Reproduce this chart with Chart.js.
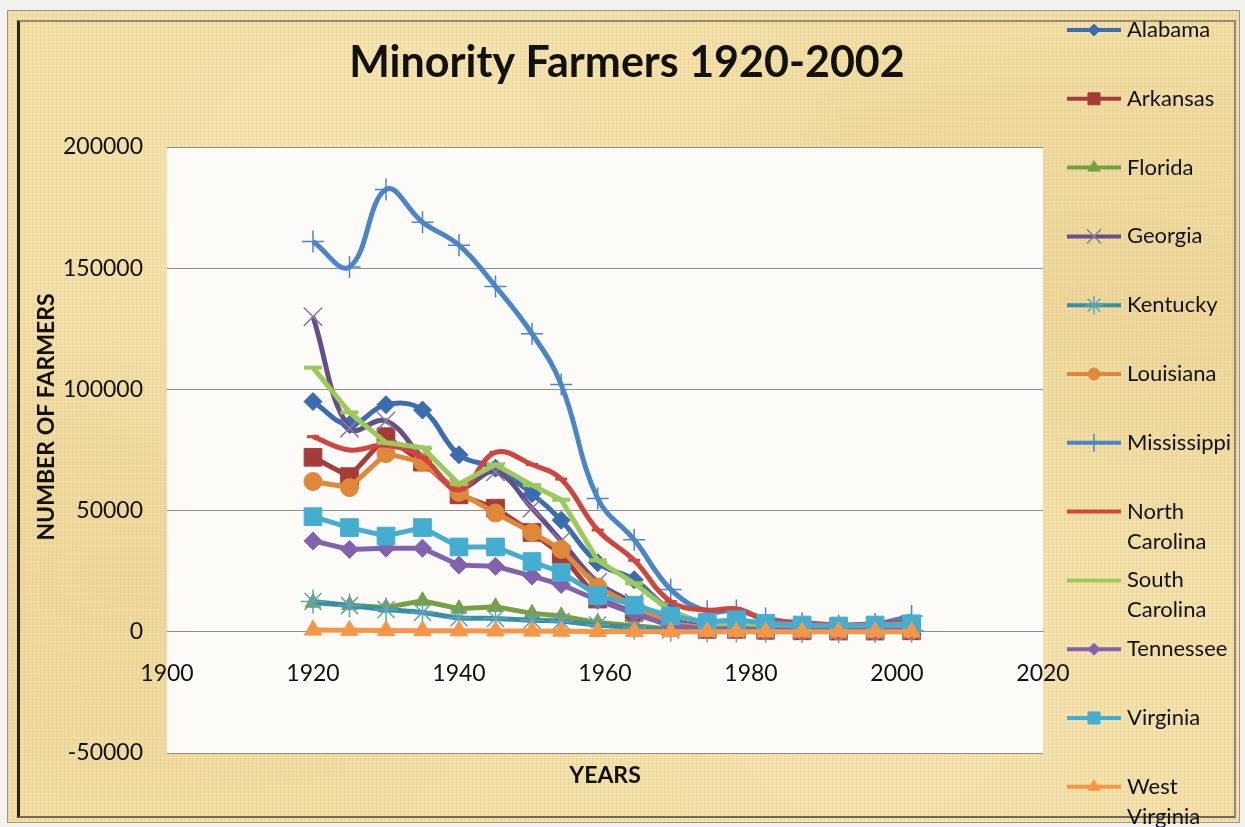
<!DOCTYPE html>
<html>
<head>
<meta charset="utf-8">
<title>Minority Farmers 1920-2002</title>
<script src="https://cdn.jsdelivr.net/npm/chart.js@4.4.1/dist/chart.umd.min.js"></script>
<style>
    html, body { margin: 0; padding: 0; background: #f3f2ee; }
    #wrap { position: relative; width: 1245px; height: 827px; overflow: hidden; }
    /* marco tipo pergamino */
    #frame {
        position: absolute; left: 7px; top: 10px; width: 1231px; height: 811px;
        border: 1px solid #9a968a;
        background-color: #F1DCA2;
        background-image:
            repeating-linear-gradient(0deg, rgba(255,246,212,.22) 0 1px, transparent 1px 4px),
            repeating-linear-gradient(90deg, rgba(180,150,80,.10) 0 1px, transparent 1px 4px),
            radial-gradient(ellipse at 30% 20%, rgba(252,240,200,.35), transparent 40%),
            radial-gradient(ellipse at 70% 85%, rgba(252,240,200,.3), transparent 45%),
            radial-gradient(ellipse at 88% 35%, rgba(220,190,115,.25), transparent 40%),
            radial-gradient(ellipse at 10% 70%, rgba(225,195,120,.25), transparent 35%);
    }
    #inner {
        position: absolute; left: 17px; top: 20px; width: 1214px; height: 794px;
        border-left: 3px solid #2e2412;
        border-top: 2px solid #8f8a7a;
        border-right: 2px solid #8f8a7a;
        border-bottom: 2px solid #6f6a5a;
    }
    #c { position: absolute; left: 0; top: 0; }
</style>
</head>
<body>
<div id="wrap">
    <div id="frame"></div>
    <div id="inner"></div>
    <canvas id="c" width="1245" height="827"></canvas>
</div>
<script>
// --- Datos ---
const years = [1920, 1925, 1930, 1935, 1940, 1945, 1950, 1954, 1959, 1964, 1969, 1974, 1978, 1982, 1987, 1992, 1997, 2002];

const alabama       = [95000, 85500, 93700, 91500, 73000, 67500, 57000, 46000, 28500, 21500, 9000, 3500, 3000, 2000, 1300, 1000, 1200, 2500];
const arkansas      = [72000, 64000, 80500, 70000, 56500, 51000, 41000, 32000, 13500, 8000, 2500, 1000, 1000, 600, 400, 300, 300, 400];
const florida       = [12000, 11000, 10000, 12800, 9500, 10300, 7600, 6500, 3800, 2500, 1200, 600, 700, 500, 400, 400, 500, 600];
const georgia       = [130000, 84000, 87000, 72000, 59500, 66000, 51000, 37500, 20500, 12000, 5000, 2000, 2200, 1500, 1000, 800, 900, 1500];
const kentucky      = [12500, 10800, 9200, 8000, 5800, 5500, 4800, 4300, 2800, 1800, 800, 500, 500, 400, 300, 200, 300, 400];
const louisiana     = [62000, 59500, 73500, 70000, 57500, 49000, 41000, 34000, 18500, 10500, 3500, 1500, 1500, 1000, 700, 500, 600, 700];
const mississippi   = [161000, 150500, 182500, 169000, 159500, 142500, 123000, 102000, 55000, 38000, 17500, 8500, 8800, 5500, 3500, 2500, 3200, 6500];
const northCarolina = [80500, 75000, 77000, 72000, 58500, 74000, 69000, 63000, 42000, 29500, 12500, 9000, 9500, 5000, 3800, 2800, 3300, 4300];
const southCarolina = [109000, 90500, 78000, 76000, 61000, 69000, 60500, 54500, 29500, 20000, 8500, 3000, 3500, 2500, 1500, 1200, 1300, 1800];
const tennessee     = [37500, 34000, 34500, 34500, 27500, 27000, 23000, 19500, 13000, 7500, 2500, 1200, 1300, 900, 600, 500, 600, 800];
const virginia      = [47500, 43000, 39500, 43000, 35000, 35000, 29000, 24500, 15000, 11000, 6500, 4000, 5000, 3500, 2800, 2400, 2800, 3300];
const westVirginia  = [700, 600, 500, 450, 400, 350, 300, 250, 150, 100, 60, 50, 50, 40, 40, 30, 30, 40];

const stateNames = ['Alabama', 'Arkansas', 'Florida', 'Georgia', 'Kentucky', 'Louisiana', 'Mississippi',
    'North Carolina', 'South Carolina', 'Tennessee', 'Virginia', 'West Virginia'];
const stateValues = [alabama, arkansas, florida, georgia, kentucky, louisiana, mississippi,
    northCarolina, southCarolina, tennessee, virginia, westVirginia];

// Ticks de los ejes
const xTicks = [1900, 1920, 1940, 1960, 1980, 2000, 2020];
const yTicks = [-50000, 0, 50000, 100000, 150000, 200000];

// Estilo de cada serie (colores tipo Excel 2007)
const estilos = [
    { color: '#3B6CB0', punto: 'rectRot',  radio: 9,  borde: 1,   suave: true,  leyenda: 6 },
    { color: '#A53C3A', punto: 'rect',     radio: 12.5, borde: 1, suave: false, leyenda: 8.5 },
    { color: '#78A043', punto: 'triangle', radio: 9,  borde: 1,   suave: false, leyenda: 7 },
    { color: '#654F8A', punto: 'crossRot', radio: 13, borde: 1.5, suave: true,  leyenda: 10, puntoColor: '#8a7c9e' },
    { color: '#3790A8', punto: 'star',     radio: 12, borde: 1.5, suave: true,  leyenda: 9,  puntoColor: '#5fa3b8' },
    { color: '#E0883A', punto: 'circle',   radio: 9,  borde: 1,   suave: false, leyenda: 6 },
    { color: '#4A85C8', punto: 'cross',    radio: 11, borde: 1.5, suave: true,  leyenda: 9 },
    { color: '#D0453F', punto: 'line',     radio: 6,  borde: 3,   suave: true,  leyenda: 0 },
    { color: '#9BC95A', punto: 'line',     radio: 9,  borde: 4,   suave: false, leyenda: 0 },
    { color: '#8062AE', punto: 'rectRot',  radio: 9,  borde: 1,   suave: false, leyenda: 6 },
    { color: '#45AED0', punto: 'rect',     radio: 12.5, borde: 1, suave: false, leyenda: 8.5 },
    { color: '#F79646', punto: 'triangle', radio: 10, borde: 1,   suave: false, leyenda: 7 }
];

const FUENTE = 'Lato, "Open Sans", sans-serif';

document.addEventListener('DOMContentLoaded', () => {

    // Fondo blanco del área de trazado
    const fondoArea = {
        id: 'fondoArea',
        beforeDraw(chart) {
            const { ctx, chartArea: a } = chart;
            ctx.save();
            ctx.fillStyle = '#FCFBF8';
            ctx.fillRect(a.left, a.top, a.right - a.left, a.bottom - a.top);
            ctx.restore();
        }
    };

    // Títulos y leyenda dibujados a mano (posiciones como en el original)
    const textos = {
        id: 'textos',
        afterDraw(chart) {
            const ctx = chart.ctx;
            ctx.save();
            ctx.fillStyle = '#111';
            ctx.textAlign = 'center';
            ctx.textBaseline = 'middle';

            ctx.font = 'bold 43px ' + FUENTE;
            ctx.fillText('Minority Farmers 1920-2002', 627, 63);

            ctx.font = 'bold 23px ' + FUENTE;
            ctx.fillText('YEARS', 605, 776);

            ctx.save();
            ctx.translate(47, 417);
            ctx.rotate(-Math.PI / 2);
            ctx.fillText('NUMBER OF FARMERS', 0, 0);
            ctx.restore();

            // leyenda
            const dp = Chart.helpers && Chart.helpers.drawPoint;
            chart.data.datasets.forEach((ds, i) => {
                const est = estilos[i];
                const y = 30 + i * 68.8;
                ctx.strokeStyle = est.color;
                ctx.lineWidth = 4;
                ctx.beginPath();
                ctx.moveTo(1067, y);
                ctx.lineTo(1121, y);
                ctx.stroke();
                if (dp && est.leyenda > 0) {
                    ctx.fillStyle = est.color;
                    ctx.strokeStyle = est.puntoColor || est.color;
                    ctx.lineWidth = est.borde;
                    dp(ctx, { pointStyle: est.punto, radius: est.leyenda, borderWidth: est.borde, rotation: 0 }, 1094, y);
                }
                ctx.fillStyle = '#111';
                ctx.font = '22px ' + FUENTE;
                ctx.textAlign = 'left';
                ds.label.split(' ').forEach((linea, k) => {
                    ctx.fillText(linea, 1127, y + k * 30);
                });
            });
            ctx.restore();
        }
    };

    const datasets = stateNames.map((nombre, i) => {
        const est = estilos[i];
        return {
            label: nombre,
            data: years.map((yr, k) => ({ x: yr, y: stateValues[i][k] })),
            borderColor: est.color,
            backgroundColor: est.color,
            borderWidth: 5,
            tension: est.suave ? 0.4 : 0,
            pointStyle: est.punto,
            pointRadius: est.radio,
            pointBorderWidth: est.borde,
            pointBackgroundColor: est.color,
            pointBorderColor: est.puntoColor || est.color,
            showLine: true,
            fill: false,
            order: stateNames.length - i   // las últimas series encima, como en Excel
        };
    });

    const ctx = document.getElementById('c').getContext('2d');
    new Chart(ctx, {
        type: 'scatter',
        data: { datasets },
        options: {
            responsive: false,
            devicePixelRatio: 1,
            animation: false,
            layout: { padding: { top: 147, right: 202, bottom: 74, left: 0 } },
            plugins: {
                legend: { display: false },
                title: { display: false },
                tooltip: { enabled: false }
            },
            scales: {
                x: {
                    type: 'linear',
                    position: { y: 0 },
                    min: xTicks[0],
                    max: xTicks[xTicks.length - 1],
                    afterBuildTicks(scale) { scale.ticks = xTicks.map(v => ({ value: v })); },
                    grid: { display: false, drawTicks: false },
                    border: { display: true, color: '#8E8E8E', width: 1 },
                    ticks: {
                        color: '#111',
                        padding: 28,
                        maxRotation: 0,
                        font: { family: FUENTE, size: 23 },
                        callback: v => String(v)
                    }
                },
                y: {
                    type: 'linear',
                    min: yTicks[0],
                    max: yTicks[yTicks.length - 1],
                    afterBuildTicks(scale) { scale.ticks = yTicks.map(v => ({ value: v })); },
                    afterFit(scale) { scale.width = 167; },
                    grid: { color: '#8E8E8E', lineWidth: 1, drawTicks: false },
                    border: { display: false },
                    ticks: {
                        color: '#111',
                        padding: 24,
                        font: { family: FUENTE, size: 23 },
                        callback: v => String(v)
                    }
                }
            }
        },
        plugins: [fondoArea, textos]
    });
});
</script>
</body>
</html>
